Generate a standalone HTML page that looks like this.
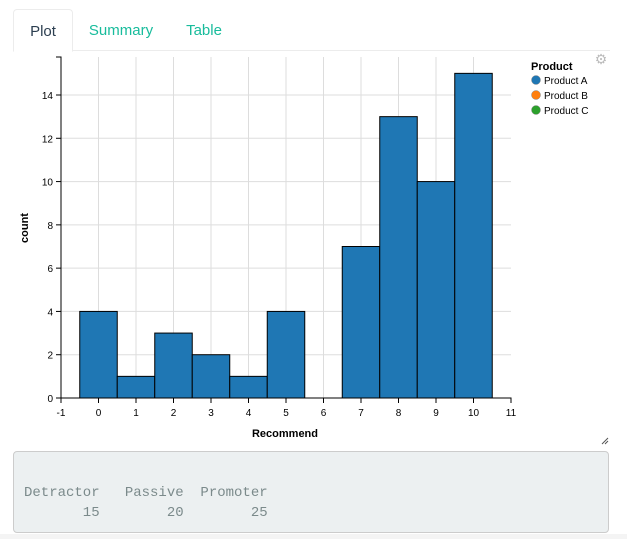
<!DOCTYPE html>
<html><head><meta charset="utf-8">
<style>
body{margin:0;width:627px;height:539px;background:#fff;font-family:"Liberation Sans",sans-serif;position:relative;overflow:hidden}
.tab{position:absolute;top:9px;height:41px;line-height:43px;font-size:15px;color:#18bc9c;text-align:center}
#plot-tab{left:13px;width:58px;border:1px solid #ececec;border-bottom:1px solid #fff;border-radius:4px 4px 0 0;color:#2c3e50;background:#fff;z-index:2}
#tabline{position:absolute;left:13px;top:50px;width:597px;height:1px;background:#ececec}
#out{position:absolute;left:13px;top:451px;width:594px;height:80px;background:#ecf0f1;border:1px solid #ccc;border-radius:4px;font-family:"Liberation Mono",monospace;font-size:14px;color:#7b8a8b;white-space:pre;line-height:20px}
#bottomline{position:absolute;left:0;top:534px;width:627px;height:5px;background:#f4f4f4}
</style></head><body>
<div class="tab" id="plot-tab">Plot</div>
<div class="tab" style="left:80px;width:82px">Summary</div>
<div class="tab" style="left:176px;width:56px">Table</div>
<div id="tabline"></div>
<svg id="chart" width="627" height="450" style="position:absolute;left:0;top:0"></svg>
<div id="out"><div style="position:absolute;left:10px;top:31px">Detractor   Passive  Promoter
       15        20        25</div></div>
<div id="bottomline"></div>
<script>
const categories=[0,1,2,3,4,5,7,8,9,10];
const counts=[4,1,3,2,1,4,7,13,10,15];
const xTicks=[-1,0,1,2,3,4,5,6,7,8,9,10,11];
const yTicks=[0,2,4,6,8,10,12,14];
const legendLabels=["Product A","Product B","Product C"];
const legendColors=["#1f77b4","#ff7f0e","#2ca02c"];
const NS="http://www.w3.org/2000/svg";
const svg=document.getElementById('chart');
const X0=61,X1=511,Y0=398,YT=57;
const xs=v=>X0+(v+1)*(X1-X0)/12;
const ys=v=>Y0-v*(303/14);
function mk(t,a,txt){const e=document.createElementNS(NS,t);for(const k in a)e.setAttribute(k,a[k]);if(txt!=null)e.textContent=txt;svg.appendChild(e);return e;}
for(let i=0;i<=10;i++){const g=mk('line',{x1:xs(i),x2:xs(i),y1:YT,y2:Y0,stroke:'#ddd'});

}
yTicks.forEach(v=>{if(v===0)return;const g=mk('line',{x1:X0,x2:X1,y1:ys(v),y2:ys(v),stroke:'#ddd'});

});
categories.forEach((c,i)=>{const r=mk('rect',{x:xs(c-0.5),y:ys(counts[i]),width:xs(c+0.5)-xs(c-0.5),height:Y0-ys(counts[i]),fill:'#1f77b4',stroke:'#000','stroke-width':1});

});
mk('path',{d:`M${X0-5},${YT}H${X0}V${Y0}H${X0-5}`,stroke:'#000',fill:'none'});
mk('path',{d:`M${X0},${Y0+5}V${Y0}H${X1}V${Y0+5}`,stroke:'#000',fill:'none'});
yTicks.forEach(v=>{mk('line',{x1:X0-5,x2:X0,y1:ys(v),y2:ys(v),stroke:'#000'});
const t=mk('text',{x:X0-8,y:ys(v)+4,'text-anchor':'end','font-size':10},v);

});
xTicks.forEach(v=>{mk('line',{x1:xs(v),x2:xs(v),y1:Y0,y2:Y0+5,stroke:'#000'});
const t=mk('text',{x:xs(v),y:Y0+18,'text-anchor':'middle','font-size':10},v);

});
const xt=mk('text',{x:285,y:437,'text-anchor':'middle','font-size':11,'font-weight':'bold'},'Recommend');


const yt=mk('text',{x:0,y:0,'text-anchor':'middle','font-size':11,'font-weight':'bold',transform:'translate(28,228) rotate(-90)'},'count');


const lt=mk('text',{x:531,y:70,'font-size':11,'font-weight':'bold'},'Product');


legendLabels.forEach((l,i)=>{const y=80+i*15;
const c=mk('circle',{cx:536,cy:y,r:4.5,fill:legendColors[i],stroke:'#888','stroke-width':0.5});


const t=mk('text',{x:544,y:y+4,'font-size':10},l);

});
const gear=mk('text',{x:601,y:64,'text-anchor':'middle','font-size':14,fill:'#bbb'},'⚙');


const rs=mk('path',{d:'M602,444L608,438M605,444L608,441',stroke:'#555','stroke-width':1});


</script>
</body></html>
